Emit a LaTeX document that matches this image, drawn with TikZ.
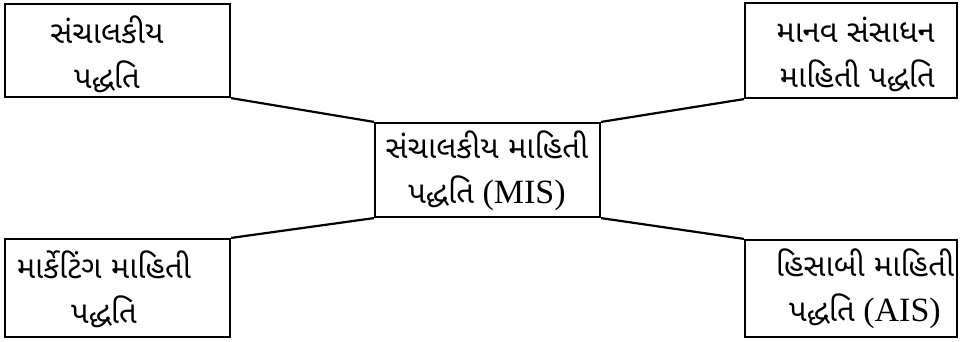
\documentclass[tikz,border=0pt]{standalone}
\usepackage{fontspec}
\setmainfont{Liberation Serif}
\newfontfamily\gujfont[Script=Gujarati,Scale=0.91]{Noto Sans Gujarati UI}
\newcommand{\guj}[1]{{\gujfont #1}}
\begin{document}
\begin{tikzpicture}[x=1pt,y=-1pt,
  sysbox/.style={draw, line width=2.2pt, inner sep=0pt},
  label/.style={align=center, font=\fontsize{34}{45}\selectfont, inner sep=0pt},
  link/.style={line width=2.2pt}]
\useasboundingbox (0,0) rectangle (960,341);
% boxes
\node[sysbox, minimum width=225, minimum height=93] (tl) at (117.5,50.5) {};
\node[sysbox, minimum width=212, minimum height=95] (tr) at (851,50.5) {};
\node[sysbox, minimum width=225, minimum height=94] (c) at (487.5,170) {};
\node[sysbox, minimum width=225, minimum height=98] (bl) at (117.5,288) {};
\node[sysbox, minimum width=212, minimum height=97] (br) at (851,288.5) {};
% labels
\node[label] (tlt) at (107,54) {\guj{સંચાલકીય}\\\guj{પદ્ધતિ}};
\node[label, align=right, anchor=east] (trt) at (935,54) {\guj{માનવ સંસાધન}\\\guj{માહિતી પદ્ધતિ}};
\node[label] (ct) at (487,171) {\guj{સંચાલકીય માહિતી}\\\guj{પદ્ધતિ} (MIS)};
\node[label] (blt) at (104,289) {\guj{માર્કેટિંગ માહિતી}\\\guj{પદ્ધતિ}};
\node[label] (brt) at (865,289) {\guj{હિસાબી માહિતી}\\\guj{પદ્ધતિ} (AIS)};
% connectors
\draw[link] (tl.south east) -- (c.north west);
\draw[link] (tr.south west) -- (c.north east);
\draw[link] (bl.north east) -- (c.south west);
\draw[link] (br.north west) -- (c.south east);
\end{tikzpicture}
\end{document}
